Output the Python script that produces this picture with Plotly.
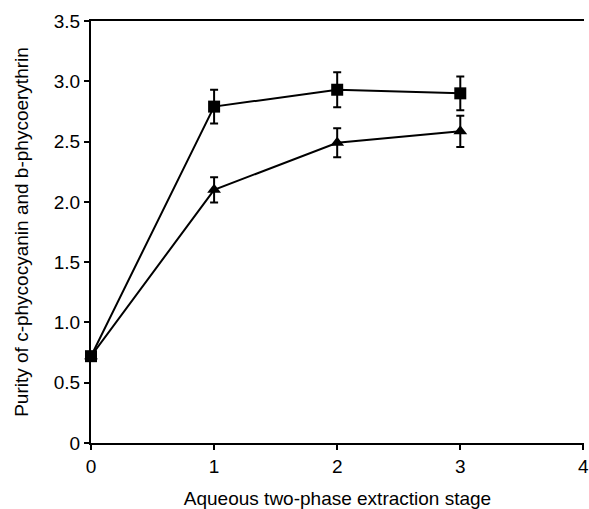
import plotly.graph_objects as go

stages = [0, 1, 2, 3]
pc_purity = [0.72, 2.79, 2.93, 2.90]
pc_err = [0.0, 0.14, 0.145, 0.14]
pe_purity = [0.72, 2.10, 2.49, 2.585]
pe_err = [0.0, 0.105, 0.12, 0.13]

ytick_vals = [0, 0.5, 1.0, 1.5, 2.0, 2.5, 3.0, 3.5]
ytick_text = ["0", "0.5", "1.0", "1.5", "2.0", "2.5", "3.0", "3.5"]
xtick_vals = [0, 1, 2, 3, 4]

font = "Liberation Sans, Arial, sans-serif"

fig = go.Figure()
fig.add_trace(go.Scatter(
    x=stages, y=pe_purity, mode="lines+markers",
    line=dict(color="black", width=2),
    marker=dict(symbol="triangle-up", size=12, color="black"),
    error_y=dict(type="data", array=pe_err, color="black", thickness=2, width=4),
    showlegend=False, cliponaxis=False))
fig.add_trace(go.Scatter(
    x=stages, y=pc_purity, mode="lines+markers",
    line=dict(color="black", width=2),
    marker=dict(symbol="square", size=12, color="black"),
    error_y=dict(type="data", array=pc_err, color="black", thickness=2, width=4),
    showlegend=False, cliponaxis=False))

fig.update_layout(
    width=589, height=509,
    margin=dict(l=91, r=0, t=21, b=62),
    paper_bgcolor="white", plot_bgcolor="white",
    font=dict(family=font, size=19, color="black"),
    xaxis=dict(range=[0, 4.005], tickvals=xtick_vals, ticks="outside", ticklen=5,
               tickwidth=2, tickcolor="black", showline=True, linecolor="black",
               linewidth=2, mirror=True, showgrid=False, zeroline=False,
               ticklabeloverflow="allow",
               title=dict(text="Aqueous two-phase extraction stage", standoff=19,
                          font=dict(size=19))),
    yaxis=dict(range=[0, 3.5], tickvals=ytick_vals, ticktext=ytick_text,
               ticks="outside", ticklen=5, tickwidth=2, tickcolor="black",
               showline=True, linecolor="black", linewidth=2, mirror=False,
               showgrid=False, zeroline=False,
               title=dict(text="Purity of c-phycocyanin and b-phycoerythrin",
                          standoff=20, font=dict(size=19))),
)

fig.write_html("out.html")
